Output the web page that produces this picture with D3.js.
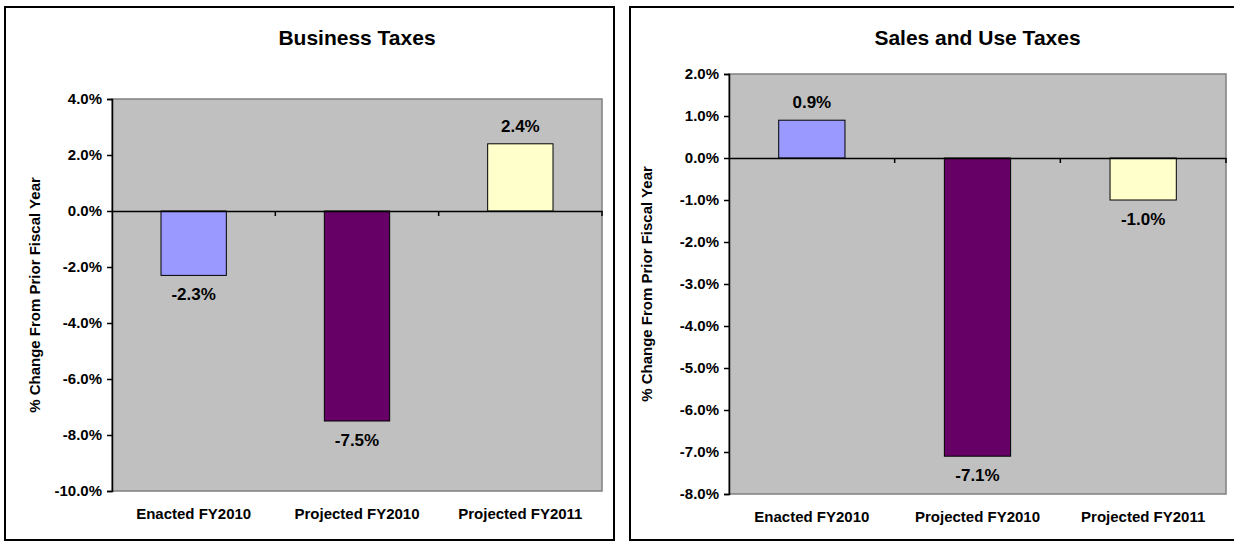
<!DOCTYPE html>
<html>
<head>
<meta charset="utf-8">
<script src="https://cdn.jsdelivr.net/npm/d3@7"></script>
<style>
  body { margin: 0; background: #fff; overflow: hidden; }
  svg { display: block; font-family: "Liberation Sans", Arial, sans-serif; }
</style>
</head>
<body>
<svg id="chart" width="1234" height="542"></svg>
<script>
const categories = ['Enacted FY2010', 'Projected FY2010', 'Projected FY2011']
const barColors = ['#9999ff', '#660066', '#ffffcc']

const businessValues = [-2.3, -7.5, 2.4]
const businessTicks = [4, 2, 0, -2, -4, -6, -8, -10]

const salesValues = [0.9, -7.1, -1.0]
const salesTicks = [2, 1, 0, -1, -2, -3, -4, -5, -6, -7, -8]

const yTitle = '% Change From Prior Fiscal Year'

const svg = d3.select('#chart')

const drawChart = (opts) => {
  const { title, values, ticks, box, plot } = opts
  const g = svg.append('g')

  // outer frame
  g.append('rect')
    .attr('x', box.x).attr('y', box.y)
    .attr('width', box.w).attr('height', box.h)
    .attr('fill', '#fff')
    .attr('stroke', '#000')
    .attr('stroke-width', 2)

  const y = d3.scaleLinear()
    .domain([d3.min(ticks), d3.max(ticks)])
    .range([plot.bottom, plot.top])

  const x = d3.scaleBand()
    .domain(categories)
    .range([plot.left, plot.right])

  // plot area
  g.append('rect')
    .attr('x', plot.left).attr('y', plot.top)
    .attr('width', plot.right - plot.left)
    .attr('height', plot.bottom - plot.top)
    .attr('fill', '#c0c0c0')
    .attr('stroke', '#808080')
    .attr('stroke-width', 1.5)

  // title
  g.append('text')
    .attr('x', (plot.left + plot.right) / 2)
    .attr('y', 45)
    .attr('text-anchor', 'middle')
    .attr('font-size', 21)
    .attr('font-weight', 'bold')
    .text(title)

  // bars
  const barW = x.bandwidth() * 0.4
  g.selectAll('.bar')
    .data(values)
    .enter()
    .append('rect')
    .attr('class', 'bar')
    .attr('x', (d, i) => x(categories[i]) + (x.bandwidth() - barW) / 2)
    .attr('y', d => y(Math.max(0, d)))
    .attr('width', barW)
    .attr('height', d => Math.abs(y(d) - y(0)))
    .attr('fill', (d, i) => barColors[i])
    .attr('stroke', '#000')
    .attr('stroke-width', 1)

  // value labels
  g.selectAll('.val')
    .data(values)
    .enter()
    .append('text')
    .attr('class', 'val')
    .attr('x', (d, i) => x(categories[i]) + x.bandwidth() / 2)
    .attr('y', d => d >= 0 ? y(d) - 12 : y(d) + 25)
    .attr('text-anchor', 'middle')
    .attr('font-size', 17)
    .attr('font-weight', 'bold')
    .text(d => d.toFixed(1) + '%')

  // y axis
  const yAxis = g.append('g')
    .attr('transform', `translate(${plot.left},0)`)
    .call(d3.axisLeft(y)
      .tickValues(ticks)
      .tickSize(5)
      .tickPadding(5)
      .tickFormat(d => d.toFixed(1) + '%'))
  yAxis.select('.domain').attr('stroke', '#000').attr('stroke-width', 1.5)
  yAxis.selectAll('.tick line').attr('stroke', '#000').attr('stroke-width', 1.5)
  yAxis.selectAll('.tick text')
    .attr('font-size', 15)
    .attr('font-weight', 'bold')
    .attr('font-family', '"Liberation Sans", Arial, sans-serif')
    .attr('fill', '#000')

  // x axis at zero with ticks between categories
  const xAxis = g.append('g')
    .attr('transform', `translate(0,${y(0)})`)
    .call(d3.axisBottom(x).tickSize(0).tickFormat(''))
  xAxis.select('.domain').attr('stroke', '#000').attr('stroke-width', 1.5)
  xAxis.selectAll('.tick').remove()
  xAxis.selectAll('.sep')
    .data(categories)
    .enter()
    .append('line')
    .attr('x1', d => x(d) + x.bandwidth())
    .attr('x2', d => x(d) + x.bandwidth())
    .attr('y1', 0).attr('y2', 5)
    .attr('stroke', '#000')
    .attr('stroke-width', 1.5)

  // category labels below plot
  g.selectAll('.cat')
    .data(categories)
    .enter()
    .append('text')
    .attr('class', 'cat')
    .attr('x', d => x(d) + x.bandwidth() / 2)
    .attr('y', plot.bottom + 28)
    .attr('text-anchor', 'middle')
    .attr('font-size', 15)
    .attr('font-weight', 'bold')
    .text(d => d)

  // y axis title
  g.append('text')
    .attr('transform', `translate(${opts.yTitleX},${(plot.top + plot.bottom) / 2}) rotate(-90)`)
    .attr('text-anchor', 'middle')
    .attr('font-size', 15)
    .attr('font-weight', 'bold')
    .text(yTitle)
}

drawChart({
  title: 'Business Taxes',
  values: businessValues,
  ticks: businessTicks,
  box: { x: 5, y: 7, w: 609, h: 533 },
  plot: { left: 112, top: 99, right: 602, bottom: 491 },
  yTitleX: 40
})

drawChart({
  title: 'Sales and Use Taxes',
  values: salesValues,
  ticks: salesTicks,
  box: { x: 630, y: 7, w: 620, h: 533 },
  plot: { left: 729, top: 74, right: 1226, bottom: 494 },
  yTitleX: 652
})
</script>
</body>
</html>
